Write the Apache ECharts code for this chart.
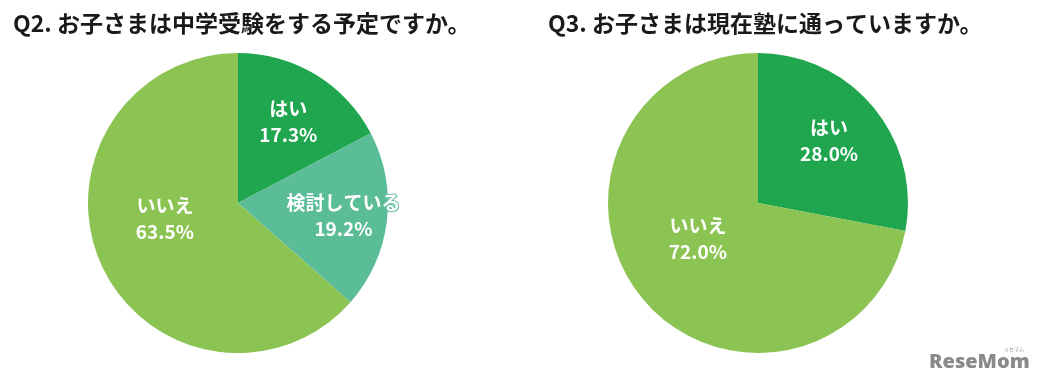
<!DOCTYPE html>
<html><head><meta charset="utf-8">
<script src="https://cdn.jsdelivr.net/npm/echarts@6/dist/echarts.min.js"></script>
<style>html,body{margin:0;padding:0;background:#fff}#c{width:1039px;height:387px}</style>
</head><body><div id="c"></div>
<script>
const q2Title = 'Q2. お子さまは中学受験をする予定ですか。';
const q2Categories = ['はい', '検討している', 'いいえ'];
const q2Values = [17.3, 19.2, 63.5];
const q3Title = 'Q3. お子さまは現在塾に通っていますか。';
const q3Categories = ['はい', 'いいえ'];
const q3Values = [28.0, 72.0];

const colorMap = {'はい': '#1fa64f', '検討している': '#5bbd98', 'いいえ': '#8cc453'};
const q2Offsets = [[10, -14], [28, 3], [-2, -16]];
const q3Offsets = [[11, -12], [0, -14]];
const font = '"Noto Sans CJK JP", "Noto Sans", sans-serif';

function buildData(cats, vals, offs) {
  return cats.map((c, i) => ({
    name: c, value: vals[i],
    itemStyle: {color: colorMap[c]},
    label: {offset: offs[i], textBorderColor: colorMap[c]}
  }));
}
function pieSeries(center, data) {
  return {
    type: 'pie', center: center, radius: 150, startAngle: 90, clockwise: true,
    silent: true, animation: false,
    label: {
      show: true, position: 'inside', color: '#fff', fontFamily: font,
      fontWeight: 'bold', fontSize: 19, lineHeight: 26, textBorderWidth: 2,
      formatter: p => p.name + '\n' + p.value.toFixed(1) + '%'
    },
    labelLine: {show: false},
    itemStyle: {borderWidth: 0},
    data: data
  };
}
const chart = echarts.init(document.getElementById('c'), null, {renderer: 'canvas'});
chart.setOption({
  backgroundColor: '#fff',
  title: [
    {text: q2Title, left: 8, top: 7, textStyle: {fontFamily: font, fontWeight: 'bold', fontSize: 23, color: '#1a1a1a'}},
    {text: q3Title, left: 543, top: 7, textStyle: {fontFamily: font, fontWeight: 'bold', fontSize: 23, color: '#1a1a1a'}}
  ],
  series: [
    pieSeries([238, 203], buildData(q2Categories, q2Values, q2Offsets)),
    pieSeries([758, 203], buildData(q3Categories, q3Values, q3Offsets))
  ],
  graphic: [
    {type: 'text', left: 929, top: 352, style: {text: 'ReseMom', fill: '#8a8a8a', font: '800 20px "Open Sans", sans-serif'}},
    {type: 'text', left: 1004, top: 347, style: {text: 'リセマム', fill: '#8a8a8a', font: '5px "Noto Sans CJK JP", sans-serif'}}
  ]
});
</script></body></html>
